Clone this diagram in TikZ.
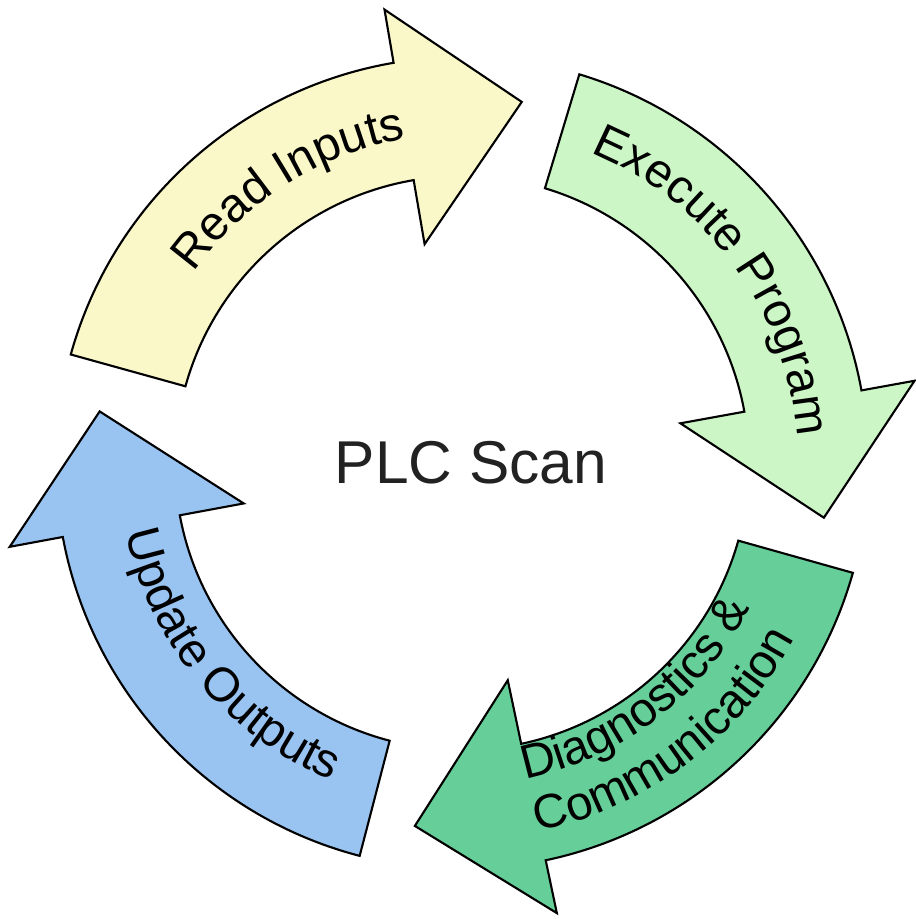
\documentclass[tikz,border=0pt]{standalone}
\usepackage{fontspec}
\setmainfont{Liberation Sans}
\usetikzlibrary{calc}
\usetikzlibrary{decorations.text}

\definecolor{readfill}{RGB}{250,248,200}
\definecolor{execfill}{RGB}{204,246,198}
\definecolor{diagfill}{RGB}{102,206,152}
\definecolor{updfill}{RGB}{153,196,242}
\definecolor{scangray}{RGB}{34,34,34}

\newcommand{\stagefont}{\fontsize{13.6}{16}\selectfont}

\begin{document}
\begin{tikzpicture}[line width=0.6pt, line join=miter]

\useasboundingbox (-4.62,-4.56) rectangle (4.53,4.63);

\coordinate (O) at (0,0);

% Read Inputs
\draw[black, fill=readfill] (164.5:4.06) arc[start angle=164.5, end angle=99.7, radius=4.06] -- (99.7:4.60) -- (80.6:3.66) -- (99.7:2.22) -- (99.7:2.87) arc[start angle=99.7, end angle=164.5, radius=2.87] -- cycle;
\path[decorate, decoration={text along path, text align=center, text={|\stagefont|Read Inputs}}] (167.2:3.29) arc[start angle=167.2, end angle=77.2, radius=3.29];

% Execute Program
\draw[black, fill=execfill] (73.2:4.06) arc[start angle=73.2, end angle=10.3, radius=4.06] -- (10.3:4.60) -- (-8.6:3.66) -- (10.3:2.22) -- (10.3:2.87) arc[start angle=10.3, end angle=73.2, radius=2.87] -- cycle;
\path[decorate, decoration={text along path, text align=center, text={|\stagefont|Execute Program}}] (81:3.36) arc[start angle=81, end angle=-9, radius=3.36];

% Diagnostics & Communication
\draw[black, fill=diagfill] (-15.7:4.06) arc[start angle=-15.7, end angle=-78.1, radius=4.06] -- (-78.1:4.60) -- (-97.4:3.66) -- (-78.1:2.22) -- (-78.1:2.87) arc[start angle=-78.1, end angle=-15.7, radius=2.87] -- cycle;
\path[decorate, decoration={text along path, text align=center, text={|\stagefont|Diagnostics {\&}}}] (-97.7:3.22) arc[start angle=-97.7, end angle=-7.7, radius=3.22];
\path[decorate, decoration={text along path, text align=center, text={|\stagefont|Communication}}] (-98.1:3.76) arc[start angle=-98.1, end angle=-8.1, radius=3.76];

% Update Outputs
\draw[black, fill=updfill] (255.4:4.06) arc[start angle=255.4, end angle=190.5, radius=4.06] -- (190.5:4.60) -- (171.9:3.66) -- (190.5:2.22) -- (190.5:2.87) arc[start angle=190.5, end angle=255.4, radius=2.87] -- cycle;
\path[decorate, decoration={text along path, text align=center, text={|\stagefont|Update Outputs}}] (174.7:3.43) arc[start angle=174.7, end angle=264.7, radius=3.43];

\node[text=scangray, font=\fontsize{17.2}{20}\selectfont] (scan) at ($(O)+(0.09,0)$) {PLC Scan};

\end{tikzpicture}
\end{document}
